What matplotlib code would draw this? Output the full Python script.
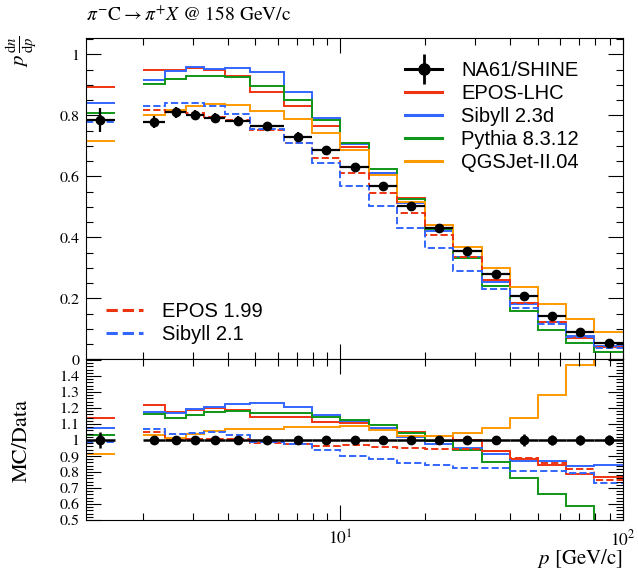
import numpy as np
import matplotlib
matplotlib.use("Agg")
import matplotlib.pyplot as plt
from matplotlib.lines import Line2D
from matplotlib.legend_handler import HandlerTuple
from matplotlib.ticker import MultipleLocator, FuncFormatter, NullFormatter, LogLocator

# bin edges in p [GeV/c]; bin 1.585-2.0 has no measurement
edges = [1.259, 1.585, 2.0, 2.4, 2.85, 3.3, 3.9, 4.8, 6.31, 7.94, 10.0, 12.59,
         15.85, 19.95, 25.12, 31.62, 39.81, 50.12, 63.10, 79.43, 100.0]
nan = np.nan

data = [0.785, nan, 0.779, 0.810, 0.803, 0.791, 0.782, 0.765, 0.728, 0.685, 0.631,
        0.570, 0.504, 0.431, 0.354, 0.279, 0.209, 0.143, 0.0905, 0.052]
data_err = [0.039, nan, 0.019, 0.018, 0.016, 0.016, 0.016, 0.015, 0.016, 0.014, 0.013,
            0.011, 0.010, 0.009, 0.007, 0.007, 0.0073, 0.0043, 0.0027, 0.0016]

epos_lhc = [0.893, nan, 0.950, 0.950, 0.954, 0.948, 0.929, 0.877, 0.831, 0.764, 0.697,
            0.612, 0.530, 0.442, 0.354, 0.259, 0.184, 0.121, 0.071, 0.040]
sibyll23d = [0.842, nan, 0.917, 0.945, 0.959, 0.952, 0.956, 0.943, 0.877, 0.792, 0.707,
             0.612, 0.513, 0.420, 0.336, 0.255, 0.182, 0.124, 0.076, 0.044]
pythia = [0.808, nan, 0.904, 0.919, 0.928, 0.928, 0.925, 0.896, 0.850, 0.785, 0.710,
          0.624, 0.527, 0.428, 0.332, 0.241, 0.160, 0.095, 0.053, 0.024]
qgsjet = [0.716, nan, 0.803, 0.818, 0.831, 0.837, 0.834, 0.816, 0.788, 0.742, 0.686,
          0.606, 0.517, 0.442, 0.370, 0.300, 0.238, 0.183, 0.133, 0.090]
sibyll21 = [0.777, nan, 0.832, 0.840, 0.840, 0.832, 0.806, 0.757, 0.708, 0.643, 0.569,
            0.504, 0.431, 0.364, 0.291, 0.230, 0.168, 0.115, 0.072, 0.038]
epos199 = [nan, nan, 0.817, 0.812, 0.807, 0.795, 0.785, 0.752, 0.710, 0.661, 0.610,
           0.546, 0.479, 0.408, 0.334, 0.259, 0.186, 0.122, 0.074, 0.039]

models = [
    ("EPOS-LHC", epos_lhc, "#EE3311", "-"),
    ("Sibyll 2.3d", sibyll23d, "#3366FF", "-"),
    ("Pythia 8.3.12", pythia, "#109618", "-"),
    ("QGSJet-II.04", qgsjet, "#FF9900", "-"),
    ("EPOS 1.99", epos199, "#EE3311", "--"),
    ("Sibyll 2.1", sibyll21, "#3366FF", "--"),
]

plt.rcParams['font.family'] = 'serif'
plt.rcParams['font.serif'] = ['STIXGeneral', 'DejaVu Serif']
plt.rcParams['mathtext.fontset'] = 'stix'

e = np.array(edges)
d = np.array(data)
de = np.array(data_err)
xc = np.sqrt(e[:-1] * e[1:])
ok = ~np.isnan(d)

fig = plt.figure(figsize=(6.38, 5.69), dpi=100)
ax = fig.add_axes([0.1353, 0.3685, 0.8407, 0.5642])
ax2 = fig.add_axes([0.1353, 0.0861, 0.8407, 0.2824], sharex=ax)

lw = 1.4
for name, vals, col, ls in models:
    v = np.array(vals)
    ax.stairs(v, e, baseline=None, color=col, lw=lw, ls=ls)
    ax2.stairs(v / d, e, baseline=None, color=col, lw=lw, ls=ls)

xerr = [xc[ok] - e[:-1][ok], e[1:][ok] - xc[ok]]
ax.errorbar(xc[ok], d[ok], xerr=xerr, yerr=de[ok], fmt='o', color='k',
            ms=6, elinewidth=1.6, capsize=0, zorder=5)
ax2.errorbar(xc[ok], np.ones(ok.sum()), xerr=xerr, yerr=de[ok] / d[ok], fmt='o',
             color='k', ms=6, elinewidth=1.8, capsize=0, zorder=5)

ax.set_xscale('log')
ax.set_xlim(1.259, 100)
ax.set_ylim(0, 1.053)
ax2.set_ylim(0.5, 1.504)

for a in (ax, ax2):
    a.tick_params(which='both', direction='in', top=True, right=True, labelsize=11.5)
    a.tick_params(which='major', length=11, width=0.8)
    a.tick_params(which='minor', length=5, width=0.8)
    a.xaxis.set_minor_locator(LogLocator(base=10, subs=np.arange(2, 10)))
    a.xaxis.set_minor_formatter(NullFormatter())
    for s in a.spines.values():
        s.set_linewidth(0.8)

ax.yaxis.set_major_locator(MultipleLocator(0.2))
ax.yaxis.set_minor_locator(MultipleLocator(0.05))
ax.yaxis.set_major_formatter(FuncFormatter(lambda v, p: '%g' % round(v, 2)))
ax.tick_params(axis='x', labelbottom=False)
ax.tick_params(axis='y', pad=5)

ax2.yaxis.set_major_locator(MultipleLocator(0.1))
ax2.yaxis.set_minor_locator(MultipleLocator(0.02))
ax2.yaxis.set_major_formatter(FuncFormatter(
    lambda v, p: '' if v > 1.45 else '%g' % round(v, 2)))
ax2.tick_params(axis='y', pad=5)
ax2.tick_params(axis='x', pad=7, labelsize=12.5)

fig.text(86 / 638, 1 - 15 / 569, r'$\pi^{-}\mathrm{C} \rightarrow \pi^{+}X$ @ 158 GeV/c',
         fontsize=14, va='center', ha='left')
fig.text(22 / 638, 1 - 36 / 569, r'$p\,\frac{\mathrm{d}n}{\mathrm{d}p}$',
         rotation=90, ha='center', va='top', fontsize=15)
fig.text(22 / 638, 1 - 440 / 569, 'MC/Data', rotation=90, ha='center',
         va='center', fontsize=16)
fig.text(622.7 / 638, 1 - 558 / 569, r'$p$ [GeV/c]', ha='right', va='center',
         fontsize=15)

# legends
sans = {'family': 'Liberation Sans', 'size': 14.5}
dh = (Line2D([], [], color='k', lw=2.2),
      Line2D([], [], marker='o', ms=8, ls='none', color='k'),
      Line2D([], [], marker='|', ms=22, mew=2, ls='none', color='k'))
h1 = [dh] + [Line2D([], [], color=m[2], lw=2.2, ls=m[3]) for m in models[:4]]
l1 = ['NA61/SHINE'] + [m[0] for m in models[:4]]
leg1 = ax.legend(h1, l1, loc='upper left', bbox_to_anchor=(405 / 638, 1 - 61 / 569),
                 bbox_transform=fig.transFigure, frameon=False, prop=sans,
                 handlelength=1.85, handletextpad=0.95, labelspacing=0.2,
                 borderpad=0, borderaxespad=0,
                 handler_map={tuple: HandlerTuple(ndivide=1, pad=0)})
ax.add_artist(leg1)
h2 = [Line2D([], [], color=m[2], lw=2.2, ls=m[3]) for m in models[4:]]
l2 = [m[0] for m in models[4:]]
ax.legend(h2, l2, loc='upper left', bbox_to_anchor=(106 / 638, 1 - 302 / 569),
          bbox_transform=fig.transFigure, frameon=False, prop=sans,
          handlelength=1.85, handletextpad=0.95, labelspacing=0.2,
          borderpad=0, borderaxespad=0)

fig.savefig('out.png', dpi=100)
